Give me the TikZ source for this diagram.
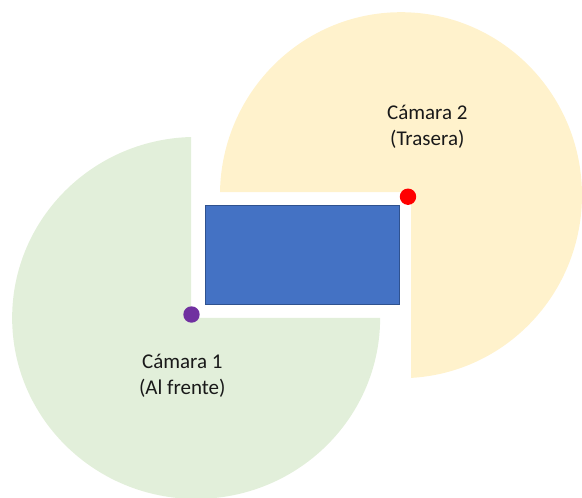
\documentclass[tikz,border=0pt]{standalone}
\usepackage{fontspec}
\setmainfont{Carlito}
\definecolor{greensec}{HTML}{E2EFDA}
\definecolor{yellowsec}{HTML}{FFF2CC}
\definecolor{bluerect}{HTML}{4472C4}
\definecolor{blueedge}{HTML}{2F528F}
\definecolor{purpledot}{HTML}{7030A0}
\tikzset{
  lab/.style={align=center,font=\fontsize{21}{26}\selectfont,text=black!90,inner sep=0pt},
  dot/.style={circle,minimum size=16.4pt,inner sep=0pt}
}
\begin{document}
\begin{tikzpicture}[x=1pt,y=-1pt]
\useasboundingbox[clip] (0,0) rectangle (582,498);
\fill[yellowsec] (411,192) -- (220,192) arc[start angle=181,end angle=446.8,x radius=181,y radius=183] -- cycle;
\fill[greensec] (191,318) -- (191,137) arc[start angle=268.4,end angle=0,x radius=184,y radius=181] -- cycle;
\node[draw=blueedge,line width=0.5pt,fill=bluerect,minimum width=193.8pt,minimum height=99.4pt,inner sep=0pt,anchor=north west] (car) at (205,205) {};
\node[dot,fill=red] (cam2) at (408,196.7) {};
\node[dot,fill=purpledot] (cam1) at (191.5,314.5) {};
\node[lab] (t2) at (427.3,126.5) {Cámara 2\\(Trasera)};
\node[lab] (t1) at (182.3,376) {Cámara 1\\(Al frente)};
\end{tikzpicture}
\end{document}
